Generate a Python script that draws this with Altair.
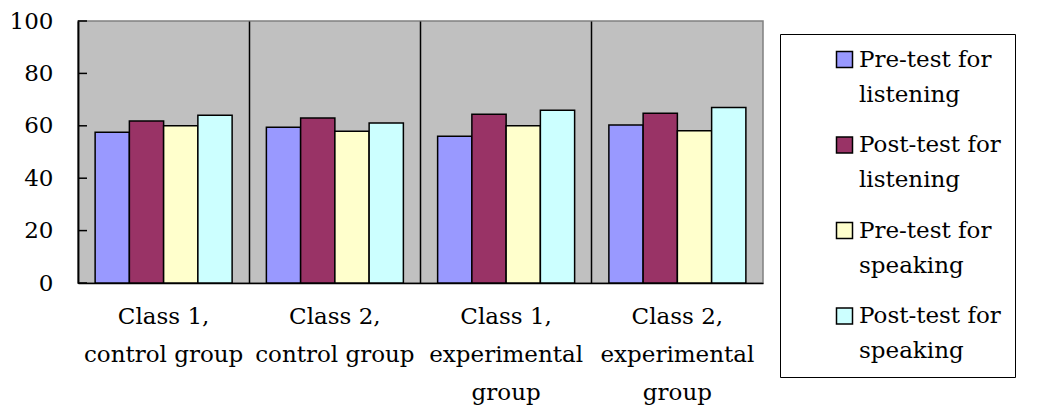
import altair as alt
import pandas as pd

groups = ["Class 1,\ncontrol group", "Class 2,\ncontrol group",
          "Class 1,\nexperimental\ngroup", "Class 2,\nexperimental\ngroup"]
series = ["Pre-test for\nlistening", "Post-test for\nlistening",
          "Pre-test for\nspeaking", "Post-test for\nspeaking"]
pre_listening = [57.5, 59.4, 56.0, 60.3]
post_listening = [61.8, 63.0, 64.4, 64.8]
pre_speaking = [60.0, 57.9, 60.0, 58.1]
post_speaking = [64.0, 61.1, 65.9, 67.0]
colors = ["#9999FF", "#993366", "#FFFFCC", "#CCFFFF"]
y_ticks = [0, 20, 40, 60, 80, 100]

rows = []
for s, vals in zip(series, [pre_listening, post_listening, pre_speaking, post_speaking]):
    for g, v in zip(groups, vals):
        rows.append({"group": g, "series": s, "value": v})
df = pd.DataFrame(rows)
ticks_df = pd.DataFrame({"v": y_ticks})

FONT = "DejaVu Serif"

bars = alt.Chart(df).mark_bar(stroke="black", strokeWidth=1.5).encode(
    x=alt.X("group:N", sort=groups, title=None,
            scale=alt.Scale(paddingInner=0, paddingOuter=0),
            axis=alt.Axis(labelAngle=0, labelFont=FONT, labelFontSize=23,
                          labelColor="black", labelLineHeight=38,
                          labelExpr="split(datum.label, '\\n')",
                          labelBaseline="top", labelPadding=22,
                          ticks=False, domainColor="black", domainWidth=1.5,
                          grid=True, gridColor="black", gridWidth=1.5,
                          bandPosition=0)),
    xOffset=alt.XOffset("series:N", sort=series,
                        scale=alt.Scale(paddingInner=0, paddingOuter=0.5)),
    y=alt.Y("value:Q", title=None,
            scale=alt.Scale(domain=[0, 100], nice=False),
            axis=alt.Axis(values=y_ticks, labelFont=FONT, labelFontSize=23,
                          labelColor="black", ticks=False, grid=False,
                          domainColor="black", domainWidth=1.5,
                          labelPadding=25)),
    color=alt.Color("series:N", sort=series,
                    scale=alt.Scale(domain=series, range=colors),
                    legend=alt.Legend(title=None, orient="none",
                                      legendX=702, legendY=13,
                                      labelExpr="split(datum.label, '\\n')",
                                      labelFont=FONT, labelFontSize=23,
                                      labelColor="black",
                                      symbolType="square", symbolSize=256,
                                      symbolStrokeColor="black",
                                      symbolStrokeWidth=1.5,
                                      rowPadding=26.5, padding=14,
                                      symbolOffset=39,
                                      strokeColor="black",
                                      labelOffset=3, labelLimit=400)),
)

tick_rules = alt.Chart(ticks_df).mark_rule(color="black", strokeWidth=1.5).encode(
    y=alt.Y("v:Q"),
    x=alt.value(0),
    x2=alt.value(9),
)

chart = alt.layer(bars, tick_rules).properties(
    width=685, height=262,
    autosize=alt.AutoSizeParams(type="none"),
    padding={"left": 78, "top": 21, "right": 276, "bottom": 130},
    background="white",
).configure(
    style={"guide-label": {"lineHeight": 35}}
).configure_view(
    fill="#C0C0C0", stroke="#808080", strokeWidth=1.5
)

chart.save("out.html", embed_options={"renderer": "svg", "actions": False})
